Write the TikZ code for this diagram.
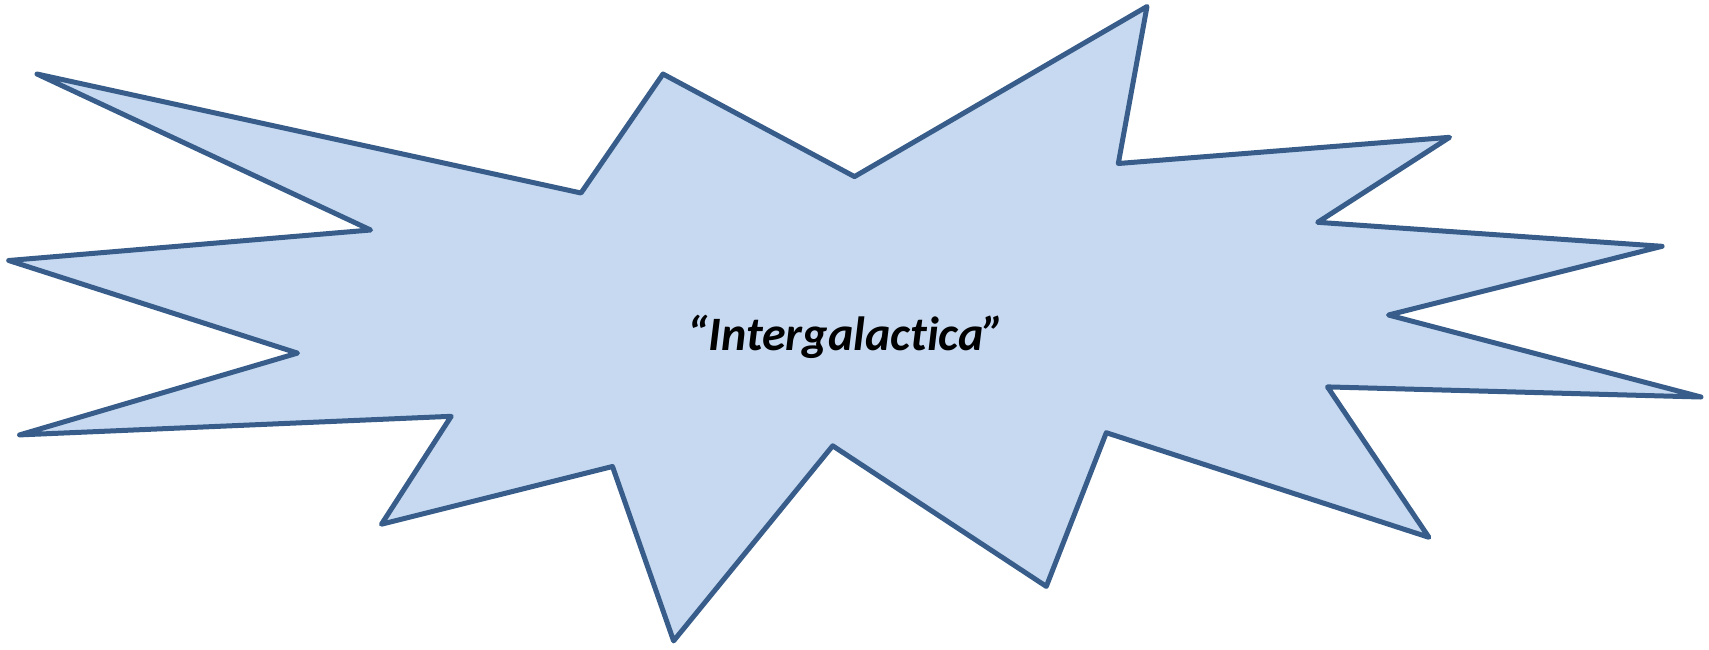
\documentclass[tikz,border=0pt]{standalone}
\usepackage{fontspec}
\setmainfont[Ligatures=NoCommon,RawFeature={-liga;-dlig;-calt;-clig}]{Carlito}
\definecolor{burstfill}{HTML}{C6D9F1}
\definecolor{burstline}{HTML}{385D8A}
\begin{document}
\begin{tikzpicture}[x=1pt,y=-1pt,
  burst/.style={draw=burstline,fill=burstfill,line width=5pt,line join=round,line cap=round},
  label/.style={font=\fontsize{48}{56}\selectfont\bfseries\itshape,text=black,inner sep=0pt}]
\useasboundingbox (0,0) rectangle (1709,649);
\draw[burst] (37,74) -- (581,193) -- (663,74) -- (854.5,176.6) -- (1147,6.5) -- (1118.3,163.5)
 -- (1449.6,137.3) -- (1317.7,222.3) -- (1662.1,246.3) -- (1388.5,315) -- (1701,397)
 -- (1327.5,386.9) -- (1428.9,537.3) -- (1106.3,432.7) -- (1046.3,586.4) -- (832.7,445.8)
 -- (673.6,640.9) -- (612.5,466.5) -- (381.5,524.2) -- (451.2,416.3) -- (19.6,434.9)
 -- (297.5,353.1) -- (8.7,260.5) -- (370.6,230) -- cycle;
\node[label,anchor=base] (t) at (846,350) {“Intergalactica”};
\end{tikzpicture}
\end{document}
